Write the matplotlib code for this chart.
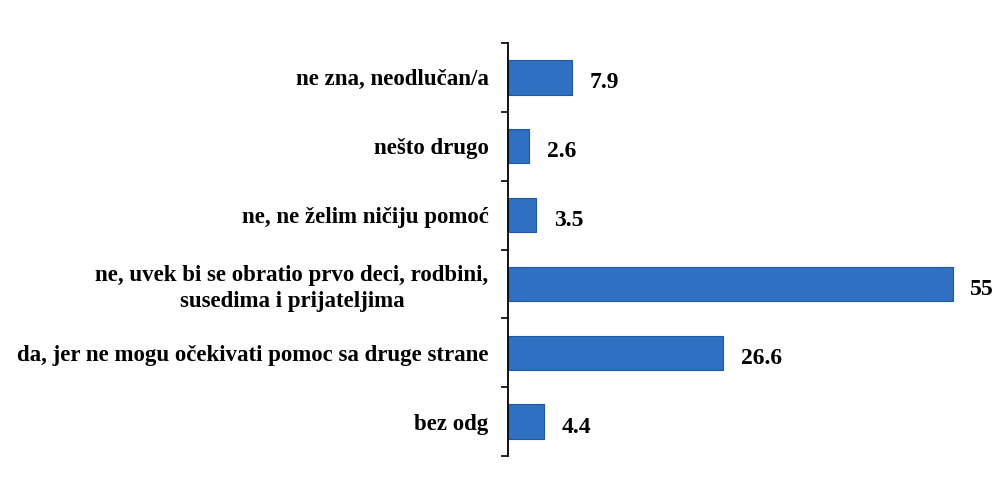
import matplotlib.pyplot as plt
import numpy as np

# survey answers, top to bottom
categories = [
    "ne zna, neodlučan/a",
    "nešto drugo",
    "ne, ne želim ničiju pomoć",
    "ne, uvek bi se obratio prvo deci, rodbini,\nsusedima i prijateljima",
    "da, jer ne mogu očekivati pomoc sa druge strane",
    "bez odg",
]
values = [7.9, 2.6, 3.5, 55, 26.6, 4.4]
value_labels = ["7.9", "2.6", "3.5", "55", "26.6", "4.4"]

plt.rcParams['font.family'] = ['Liberation Serif', 'DejaVu Serif']

fig = plt.figure(figsize=(10.06, 4.83), dpi=100)
ax = fig.add_axes([508 / 1006, 1 - 456 / 483, 485 / 1006, 413 / 483])

y = np.arange(len(categories))
ax.barh(y, values, height=0.5, color='#2f70c3', edgecolor='#1d58a6', linewidth=0.8)

for yi, v, lab in zip(y, values, value_labels):
    ax.text(v + 2.2, yi + 0.08, lab, va='center', ha='left',
            fontsize=17, fontweight='bold')

ax.set_xlim(0, 60)
ax.set_ylim(len(categories) - 0.5, -0.5)

ax.set_yticks(y)
ax.set_yticklabels(categories, fontsize=16.5, fontweight='bold',
                   multialignment='center', linespacing=1.3)
ax.tick_params(axis='y', which='major', length=0, pad=14)

# boundary ticks between categories
ax.set_yticks(np.arange(-0.5, len(categories)), minor=True)
ax.tick_params(axis='y', which='minor', length=5, width=1.2, direction='out')

ax.set_xticks([])
for s in ['top', 'right', 'bottom']:
    ax.spines[s].set_visible(False)
ax.spines['left'].set_linewidth(1.3)

fig.savefig('out.png', dpi=100)
